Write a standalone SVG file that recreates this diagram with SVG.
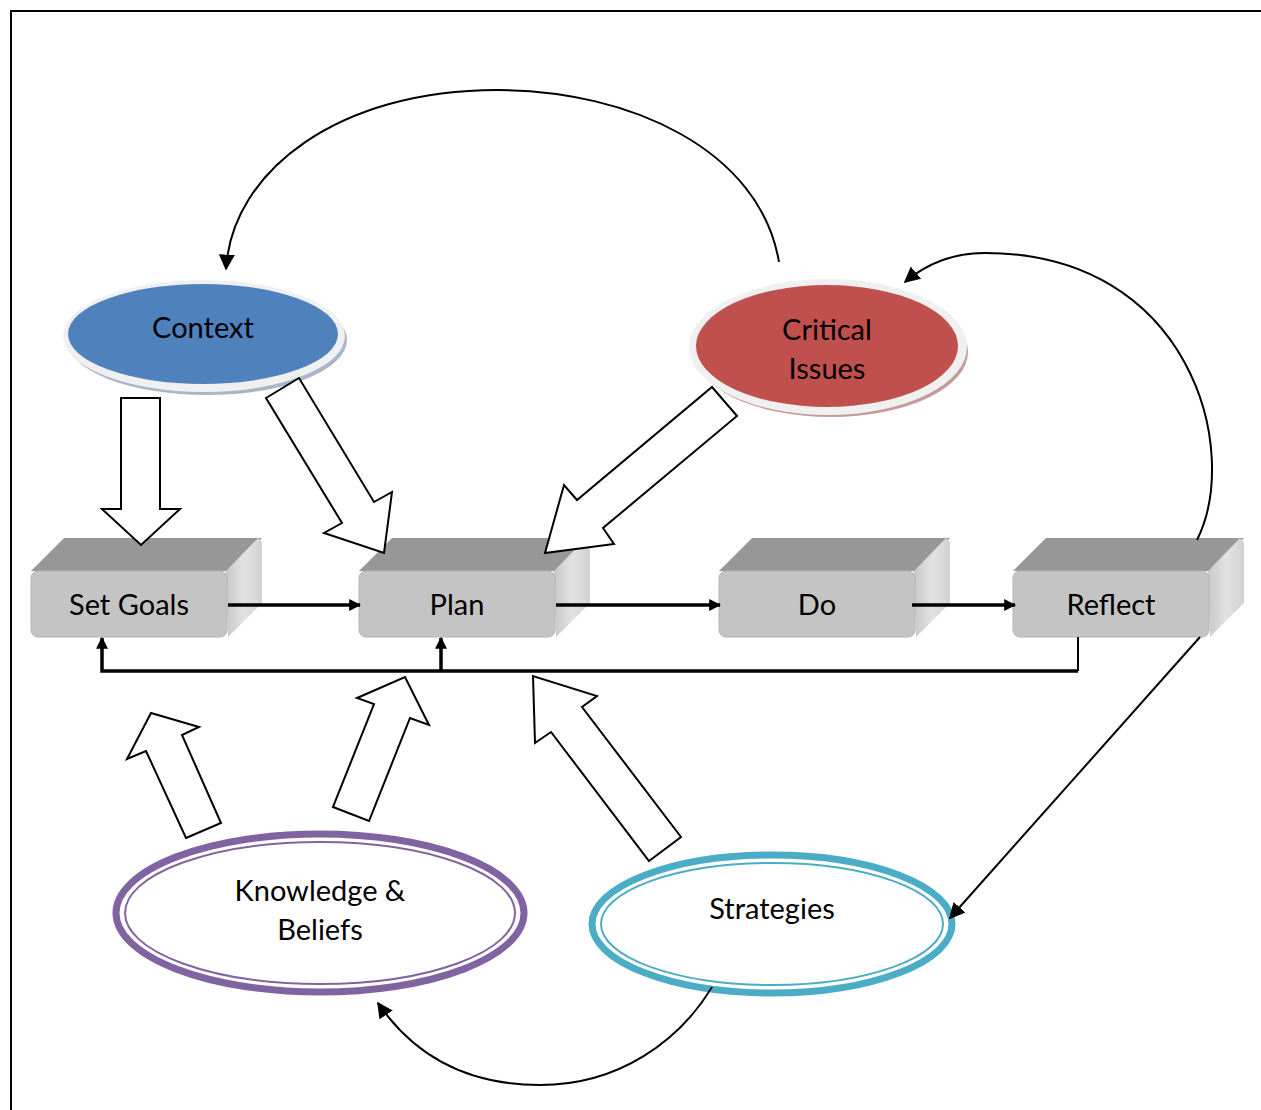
<svg xmlns="http://www.w3.org/2000/svg" width="1261" height="1110" viewBox="0 0 1261 1110">
<style>
  text { font-family: Lato, "Open Sans", "Liberation Sans", sans-serif; font-size: 29px; fill: #000; text-anchor: middle; }
  .blk { fill: #fff; stroke: #000; stroke-width: 2; stroke-linejoin: miter; }
  .front { fill: #c4c4c4; stroke: #b5b5b5; stroke-width: 1; }
  .top { fill: #979797; }
  .side { fill: url(#sideGrad); }
  .flow { fill: none; stroke: #000; stroke-width: 3.5; }
  .thin { fill: none; stroke: #000; stroke-width: 2; }
</style>
<defs>
  <linearGradient id="sideGrad" x1="0" y1="0" x2="1" y2="0">
    <stop offset="0" stop-color="#c8c8c8"/>
    <stop offset="0.5" stop-color="#e2e2e2"/>
    <stop offset="1" stop-color="#d2d2d2"/>
  </linearGradient>
  <marker id="ah" viewBox="0 0 10 10" refX="9" refY="5" markerWidth="12" markerHeight="12" markerUnits="userSpaceOnUse" orient="auto">
    <path d="M0,0 L10,5 L0,10 z" fill="#000"/>
  </marker>
  <marker id="ah2" viewBox="0 0 10 10" refX="9" refY="5" markerWidth="16" markerHeight="16" markerUnits="userSpaceOnUse" orient="auto">
    <path d="M0,0 L10,5 L0,10 z" fill="#000"/>
  </marker>
</defs>
<rect width="1261" height="1110" fill="#fff"/>
<path d="M11,1110 V11 H1261" fill="none" stroke="#000" stroke-width="2"/>

<g id="context">
  <ellipse cx="207" cy="340" rx="140" ry="55" fill="#a9b6c8"/>
  <ellipse cx="204" cy="336" rx="141" ry="56" fill="#f0f0f0"/>
  <ellipse cx="203" cy="334" rx="135" ry="50" fill="#4f81bd"/>
  <text x="203" y="338">Context</text>
</g>

<g id="critical-issues">
  <ellipse cx="831" cy="352" rx="137" ry="65" fill="#c49b9b"/>
  <ellipse cx="828" cy="347" rx="139" ry="68" fill="#f0f0f0"/>
  <ellipse cx="827" cy="346" rx="131" ry="61" fill="#c0504d"/>
  <text x="827" y="340">Critical</text>
  <text x="827" y="379">Issues</text>
</g>

<g id="set-goals">
  <polygon class="top" points="31,571 64,538 262,538 228,571"/>
  <polygon class="side" points="226,571 258,538 262,542 262,603 228,637"/>
  <rect class="front" x="31" y="571" width="196" height="66" rx="7"/>
  <text x="129" y="615">Set Goals</text>
</g>

<g id="plan">
  <polygon class="top" points="359,571 392,538 590,538 556,571"/>
  <polygon class="side" points="554,571 586,538 590,542 590,603 556,637"/>
  <rect class="front" x="359" y="571" width="196" height="66" rx="7"/>
  <text x="457" y="615">Plan</text>
</g>

<g id="do">
  <polygon class="top" points="719,571 752,538 950,538 916,571"/>
  <polygon class="side" points="914,571 946,538 950,542 950,603 916,637"/>
  <rect class="front" x="719" y="571" width="196" height="66" rx="7"/>
  <text x="817" y="615">Do</text>
</g>

<g id="reflect">
  <polygon class="top" points="1013,571 1046,538 1244,538 1210,571"/>
  <polygon class="side" points="1208,571 1240,538 1244,542 1244,603 1210,637"/>
  <rect class="front" x="1013" y="571" width="196" height="66" rx="7"/>
  <text x="1111" y="615">Reflect</text>
</g>

<g id="knowledge-beliefs">
  <ellipse cx="320" cy="913" rx="204" ry="79" fill="#fff" stroke="#8064a2" stroke-width="7"/>
  <ellipse cx="320" cy="913" rx="195" ry="71" fill="none" stroke="#8064a2" stroke-width="2"/>
  <text x="320" y="901">Knowledge &amp;</text>
  <text x="320" y="940">Beliefs</text>
</g>

<g id="strategies">
  <ellipse cx="772" cy="924" rx="180" ry="69" fill="#fff" stroke="#4bacc6" stroke-width="7"/>
  <ellipse cx="772" cy="924" rx="171" ry="61" fill="none" stroke="#4bacc6" stroke-width="2"/>
  <text x="772" y="919">Strategies</text>
</g>

<g id="connectors">
  <polygon class="blk" points="121,398 160,398 160,509 180,509 141,545 102,509 121,509"/>
  <polygon class="blk" points="266,398 299,378 374,502 392,492 384,553 324,533 342,523"/>
  <polygon class="blk" points="712,387 737,416 603,528 614,544 545,553 564,485 577,500"/>
  <polygon class="blk" points="186,838 221,823 182,735 199,727 151,713 127,759 146,751"/>
  <polygon class="blk" points="333,807 369,821 410,718 429,725 405,677 357,698 374,704"/>
  <polygon class="blk" points="649,861 681,837 582,707 597,696 533,676 535,743 551,732"/>

  <line class="flow" x1="228" y1="605" x2="360" y2="605" marker-end="url(#ah)"/>
  <line class="flow" x1="556" y1="605" x2="720" y2="605" marker-end="url(#ah)"/>
  <line class="flow" x1="912" y1="605" x2="1015" y2="605" marker-end="url(#ah)"/>

  <path class="thin" d="M1078,637 V671"/>
  <path class="flow" d="M1078,671 H102 V638" marker-end="url(#ah)"/>
  <path class="flow" d="M441,671 V638" marker-end="url(#ah)"/>

  <path class="thin" d="M779,262 C760,150 630,90 497,90 C340,90 232,170 226,269" marker-end="url(#ah2)"/>
  <path class="thin" d="M1197,540 C1242,450 1190,253 985,253 C950,253 925,265 905,282" marker-end="url(#ah2)"/>
  <path class="thin" d="M1200,637 L950,918" marker-end="url(#ah2)"/>
  <path class="thin" d="M712,987 C680,1040 620,1085 540,1085 C460,1085 410,1050 378,1003" marker-end="url(#ah2)"/>
</g>
</svg>
